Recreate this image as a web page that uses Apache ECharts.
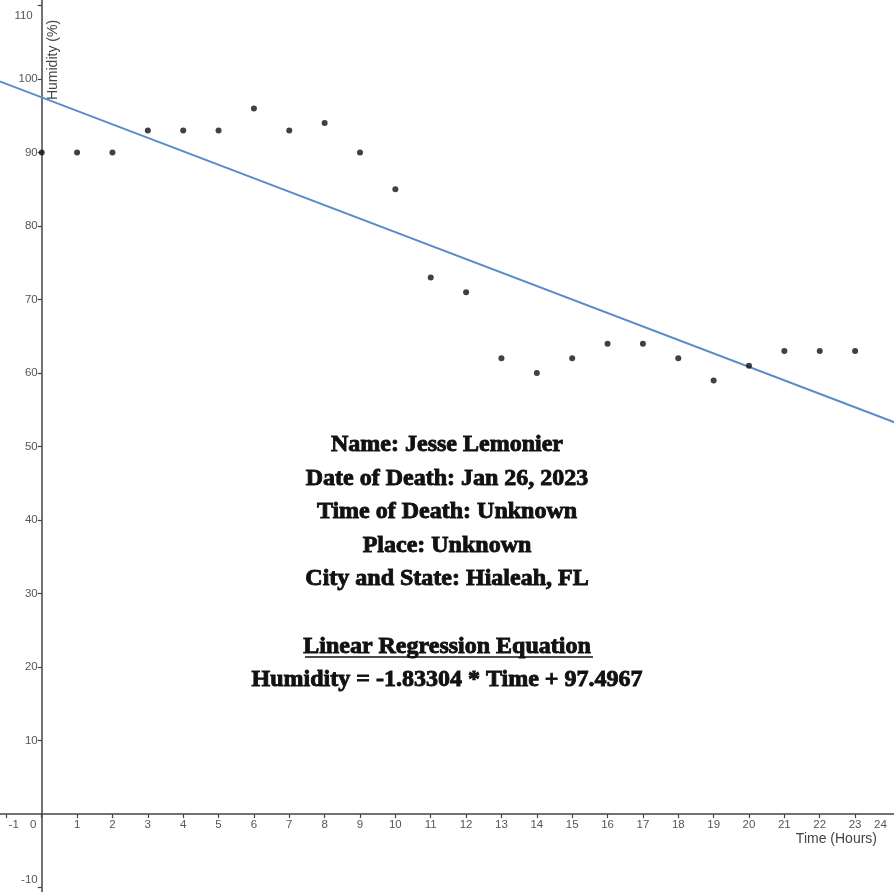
<!DOCTYPE html>
<html>
<head>
<meta charset="utf-8">
<script src="https://cdn.jsdelivr.net/npm/echarts@6/dist/echarts.min.js"></script>
<style>html,body{margin:0;padding:0;background:#fff;}#chart{width:894px;height:892px;}</style>
</head>
<body>
<div id="chart"></div>
<script>
// Data
var hours = [0,1,2,3,4,5,6,7,8,9,10,11,12,13,14,15,16,17,18,19,20,21,22,23];
var humidity = [90,90,90,93,93,93,96,93,94,90,85,73,71,62,60,62,64,64,62,59,61,63,63,63];
var slope = -1.83304;
var intercept = 97.4967;
var lineXs = [-1.3, 24.3];
var xTickValues = [-1,0,1,2,3,4,5,6,7,8,9,10,11,12,13,14,15,16,17,18,19,20,21,22,23];
var xLabelValues = [-1,0,1,2,3,4,5,6,7,8,9,10,11,12,13,14,15,16,17,18,19,20,21,22,23,24];
var yTickValues = [-10,10,20,30,40,50,60,70,80,90,100,110];
var yLabelValues = [-10,10,20,30,40,50,60,70,80,90,100,110];
var infoLines = [
  'Name: Jesse Lemonier',
  'Date of Death: Jan 26, 2023',
  'Time of Death: Unknown',
  'Place: Unknown',
  'City and State: Hialeah, FL',
  '',
  'Linear Regression Equation',
  'Humidity = -1.83304 * Time + 97.4967'
];

var points = hours.map(function (h, i) { return [h, humidity[i]]; });
var fitLine = lineXs.map(function (x) { return [x, slope * x + intercept]; });

var W = 894, H = 892;
var xMin = -1.18, xMax = 24.1, yMin = -10.6, yMax = 110.75;
// place axes where the other axis is zero (offset from grid edges)
var xAxisOffset = -((0 - yMin) / (yMax - yMin)) * H;
var yAxisOffset = -((0 - xMin) / (xMax - xMin)) * W;

var sansFamily = '"Liberation Sans", Arial, sans-serif';
var labelFont = { fontFamily: sansFamily, fontSize: 11.5, color: '#555' };
function rich(extra) { return Object.assign({}, labelFont, extra); }

var chart = echarts.init(document.getElementById('chart'));
chart.setOption({
  animation: false,
  backgroundColor: '#fff',
  title: {
    text: infoLines.join('\n'),
    left: 'center', top: 428, padding: 0,
    textStyle: {
      fontFamily: '"Liberation Serif", "Times New Roman", serif',
      fontWeight: 'bold', fontSize: 24, lineHeight: 33.6, color: '#111',
      textBorderColor: '#111', textBorderWidth: 0.9
    }
  },
  grid: { left: 0, right: 0, top: 0, bottom: 0, containLabel: false, outerBoundsMode: 'none' },
  xAxis: {
    type: 'value', min: xMin, max: xMax, position: 'bottom', offset: xAxisOffset,
    axisLine: { onZero: false, lineStyle: { color: '#444', width: 1.5 } },
    axisTick: { show: true, customValues: xTickValues, length: 4, lineStyle: { color: '#444', width: 1.2 } },
    axisLabel: {
      customValues: xLabelValues, showMinLabel: true, showMaxLabel: true, margin: 5, hideOverlap: false,
      fontFamily: labelFont.fontFamily, fontSize: labelFont.fontSize, color: labelFont.color,
      formatter: function (v) {
        if (v === 0) return '{z|0}';
        if (v === -1) return '{l|-1}';
        if (v === 24) return '{r|24}';
        return String(v);
      },
      rich: {
        z: rich({ padding: [0, 17, 0, 0] }),
        l: rich({ padding: [0, 0, 0, 15] }),
        r: rich({ padding: [0, 20, 0, 0] })
      }
    },
    splitLine: { show: false }
  },
  yAxis: {
    type: 'value', min: yMin, max: yMax, position: 'left', offset: yAxisOffset,
    axisLine: { onZero: false, lineStyle: { color: '#444', width: 1.5 } },
    axisTick: { show: true, customValues: yTickValues, length: 4, lineStyle: { color: '#444', width: 1.2 } },
    axisLabel: {
      customValues: yLabelValues, showMinLabel: true, showMaxLabel: true, margin: 4, hideOverlap: false,
      fontFamily: labelFont.fontFamily, fontSize: labelFont.fontSize, color: labelFont.color,
      formatter: function (v) {
        if (v === 110) return '{t|110}';
        if (v === -10) return '{b|-10}';
        return String(v);
      },
      rich: {
        t: rich({ padding: [21, 5, 0, 0] }),
        b: rich({ padding: [0, 0, 16, 0] })
      }
    },
    splitLine: { show: false }
  },
  graphic: [
    {
      type: 'text', x: 53, y: 60, rotation: Math.PI / 2,
      style: { text: 'Humidity (%)', font: '14px ' + sansFamily, fill: '#444', align: 'center', verticalAlign: 'middle' }
    },
    {
      type: 'text', x: 877, y: 839,
      style: { text: 'Time (Hours)', font: '14px ' + sansFamily, fill: '#444', align: 'right', verticalAlign: 'middle' }
    },
    {
      type: 'line', shape: { x1: 305, y1: 657, x2: 593, y2: 657 },
      style: { stroke: '#111', lineWidth: 1.5 }
    }
  ],
  series: [
    {
      type: 'line', data: fitLine, symbol: 'none', clip: true, z: 2,
      lineStyle: { color: '#5b8cc8', width: 2 }
    },
    {
      type: 'scatter', data: points, symbol: 'circle', symbolSize: 6, z: 3,
      itemStyle: { color: '#111' }
    }
  ]
});
</script>
</body>
</html>
